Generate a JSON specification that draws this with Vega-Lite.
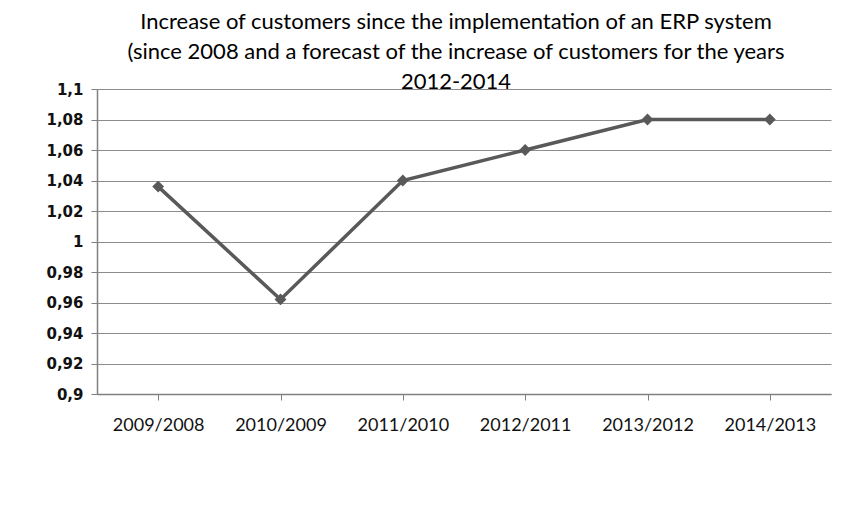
{
  "$schema": "https://vega.github.io/schema/vega-lite/v6.json",
  "width": 734,
  "height": 305,
  "autosize": "none",
  "padding": {"left": 97, "top": 89, "right": 31, "bottom": 115},
  "background": "white",
  "title": {
    "text": ["Increase of customers since the implementation of an ERP system", "(since 2008 and a forecast of the increase of customers for the years", "2012-2014"],
    "font": "Lato",
    "fontSize": 22,
    "fontWeight": "normal",
    "color": "#000000",
    "lineHeight": 30,
    "anchor": "middle",
    "frame": "group",
    "offset": -12,
    "dx": -8
  },
  "data": {
    "values": [
      {"period": "2009/2008", "ratio": 1.036},
      {"period": "2010/2009", "ratio": 0.962},
      {"period": "2011/2010", "ratio": 1.04},
      {"period": "2012/2011", "ratio": 1.06},
      {"period": "2013/2012", "ratio": 1.08},
      {"period": "2014/2013", "ratio": 1.08}
    ]
  },
  "config": {
    "view": {"stroke": null},
    "axis": {"domainColor": "#808080", "tickColor": "#808080", "gridColor": "#8c8c8c", "labelColor": "#111111"}
  },
  "mark": {"type": "line", "color": "#595959", "strokeWidth": 3.5, "point": {"shape": "diamond", "size": 140, "filled": true, "color": "#595959"}},
  "encoding": {
    "x": {
      "field": "period",
      "type": "ordinal",
      "sort": null,
      "title": null,
      "scale": {"paddingInner": 0, "paddingOuter": 0},
      "axis": {"labelAngle": 0, "bandPosition": 0, "tickSize": 6, "labelPadding": 16, "labelFont": "Lato", "labelFontSize": 18, "domainWidth": 1.5, "grid": false, "labelOffset": 0}
    },
    "y": {
      "field": "ratio",
      "type": "quantitative",
      "title": null,
      "scale": {"domain": [0.9, 1.1], "nice": false, "zero": false},
      "axis": {"values": [0.9, 0.92, 0.94, 0.96, 0.98, 1, 1.02, 1.04, 1.06, 1.08, 1.1], "labelExpr": "replace(format(datum.value, '.2~f'), '.', ',')", "tickSize": 6, "labelPadding": 8, "labelFont": "DejaVu Sans", "labelFontSize": 15, "labelFontWeight": "bold", "domainWidth": 1.5, "gridWidth": 1.2}
    }
  }
}
